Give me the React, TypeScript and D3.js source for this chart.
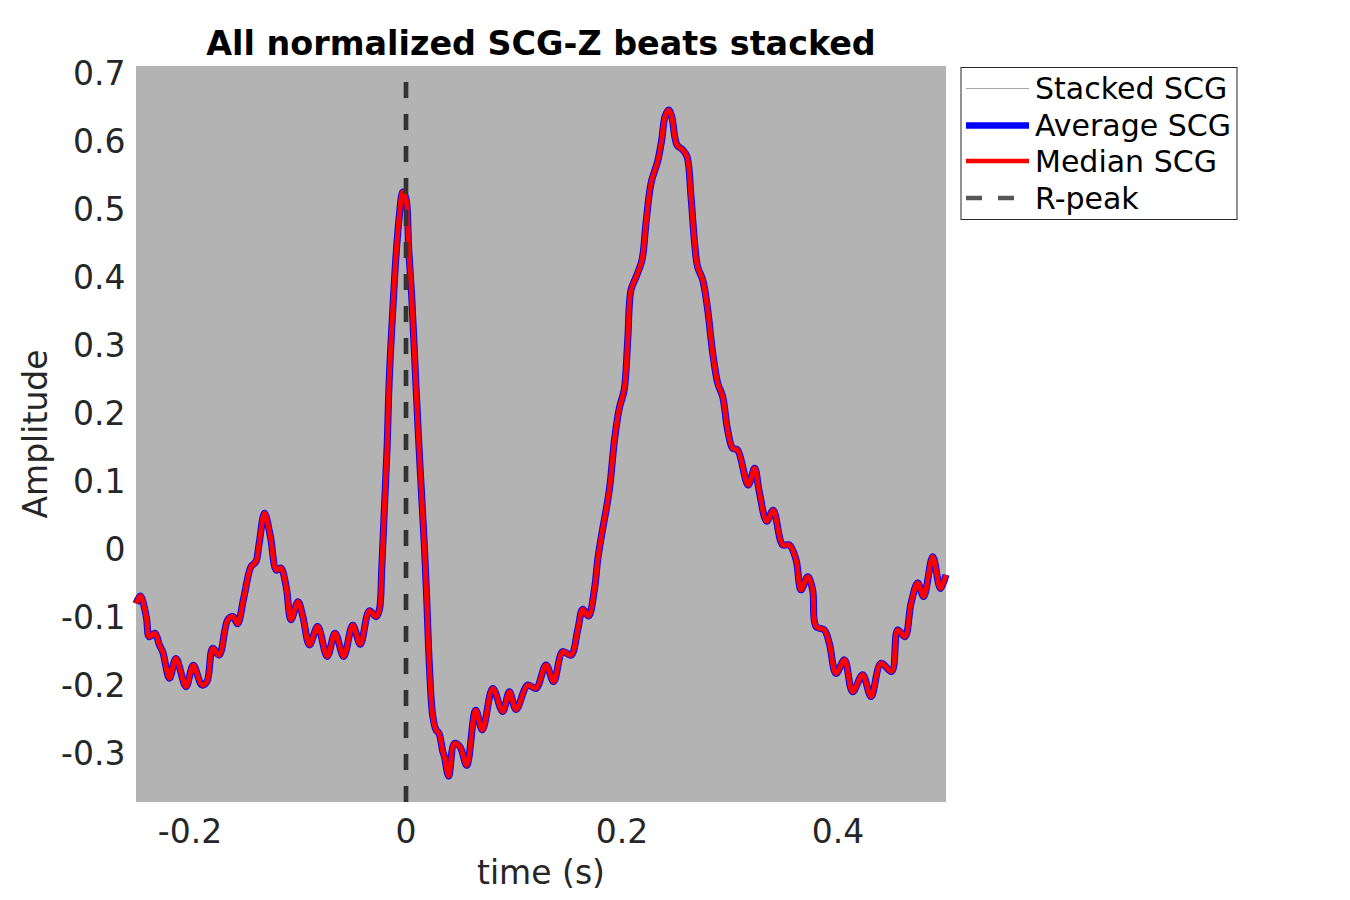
import { useEffect, useRef } from "react";
import * as d3 from "d3";

// time (s) of each traced sample
const timeSec: number[] = [
  -0.25, -0.246, -0.2405, -0.2377, -0.2324, -0.2284, -0.2253, -0.219, -0.213,
  -0.2037, -0.197, -0.189, -0.1843, -0.179, -0.173, -0.165, -0.16, -0.156, -0.15,
  -0.1435, -0.139, -0.136, -0.131, -0.1255, -0.12, -0.116, -0.111, -0.1065, -0.1,
  -0.0955, -0.0894, -0.0818, -0.073, -0.0657, -0.0577, -0.0494, -0.0423, -0.034,
  -0.0278, -0.0247, -0.0225, -0.02, -0.0175, -0.0155, -0.0123, -0.0093, -0.0062,
  -0.003, 0.0, 0.0025, 0.0053, 0.0093, 0.013, 0.017, 0.0194, 0.0216, 0.0247,
  0.0278, 0.0305, 0.034, 0.0355, 0.0395, 0.0448, 0.05, 0.0562, 0.0645, 0.0707,
  0.0803, 0.0895, 0.0957, 0.1019, 0.1127, 0.1204, 0.1296, 0.1367, 0.145, 0.1528,
  0.159, 0.1636, 0.169, 0.1744, 0.1775, 0.1806, 0.1883, 0.193, 0.1975, 0.202,
  0.2053, 0.2083, 0.213, 0.2185, 0.2222, 0.2269, 0.233, 0.2367, 0.2398, 0.2432,
  0.246, 0.2509, 0.2562, 0.2602, 0.2639, 0.267, 0.27, 0.2747, 0.279, 0.284,
  0.2886, 0.2932, 0.2978, 0.3025, 0.307, 0.3168, 0.3228, 0.327, 0.334, 0.34,
  0.3488, 0.355, 0.3612, 0.3657, 0.372, 0.3765, 0.3796, 0.3873, 0.392, 0.3981,
  0.406, 0.4135, 0.4228, 0.4306, 0.4398, 0.4497, 0.4553, 0.462, 0.4676, 0.4738,
  0.4793, 0.4877, 0.4948, 0.5,
];

// normalized SCG-Z amplitude (average and median overlap)
const avgAmp: number[] = [
  -0.08, -0.069, -0.0995, -0.129, -0.124, -0.141, -0.151, -0.19, -0.161,
  -0.2025, -0.171, -0.2, -0.195, -0.146, -0.156, -0.104, -0.0995, -0.11, -0.07,
  -0.026, -0.0187, 0.008, 0.0525, 0.018, -0.031, -0.028, -0.055, -0.104, -0.0775,
  -0.0995, -0.141, -0.114, -0.158, -0.124, -0.158, -0.112, -0.14, -0.091,
  -0.0995, -0.0897, -0.03, 0.06, 0.15, 0.25, 0.35, 0.43, 0.49,
  0.525, 0.515, 0.441, 0.371, 0.2375, 0.121, 0.005, -0.082, -0.17, -0.245,
  -0.266, -0.271, -0.2975, -0.305, -0.334, -0.286, -0.291, -0.318, -0.237, -0.266,
  -0.205, -0.239, -0.21, -0.236, -0.2, -0.205, -0.1706, -0.195, -0.151, -0.156,
  -0.119, -0.0887, -0.0985, -0.06, -0.016, 0.0157, 0.087, 0.16, 0.207, 0.234,
  0.307, 0.381, 0.4, 0.425, 0.479, 0.538, 0.57, 0.601, 0.636, 0.6455,
  0.636, 0.594, 0.587, 0.577, 0.518, 0.454, 0.415, 0.396, 0.356, 0.288,
  0.244, 0.224, 0.175, 0.148, 0.1456, 0.094, 0.1186, 0.085, 0.041, 0.057,
  0.006, 0.006, -0.016, -0.06, -0.0407, -0.06, -0.114, -0.119, -0.139, -0.183,
  -0.163, -0.21, -0.185, -0.217, -0.168, -0.18, -0.119, -0.129, -0.08, -0.05,
  -0.07, -0.0113, -0.058, -0.038,
];
const medianAmp: number[] = avgAmp.slice();

const xTicks: number[] = [-0.2, 0, 0.2, 0.4];
const yTicks: number[] = [-0.3, -0.2, -0.1, 0, 0.1, 0.2, 0.3, 0.4, 0.5, 0.6, 0.7];
const legendLabels: string[] = ["Stacked SCG", "Average SCG", "Median SCG", "R-peak"];

export default function App() {
  const svgRef = useRef<SVGSVGElement>(null);

  useEffect(() => {
    if (!svgRef.current) return;
    const svg = d3.select(svgRef.current);
    svg.selectAll("*").remove();

    const font = "DejaVu Sans";
    const textColor = "#262626";
    const axisFont = 33;
    const plot = { left: 136, right: 946, top: 66, bottom: 802 };

    const x = d3.scaleLinear().domain([-0.25, 0.5]).range([plot.left, plot.right]);
    const y = d3.scaleLinear().domain([-0.3, 0.7]).range([753, 73]);

    svg
      .append("rect")
      .attr("x", plot.left)
      .attr("y", plot.top)
      .attr("width", plot.right - plot.left)
      .attr("height", plot.bottom - plot.top)
      .attr("fill", "#b3b3b3");

    const pts = timeSec.map((t, i) => [t, avgAmp[i], medianAmp[i]] as [number, number, number]);

    const avgLine = d3
      .line<[number, number, number]>()
      .x((d) => x(d[0]))
      .y((d) => y(d[1]))
      .curve(d3.curveCatmullRom.alpha(0.5));
    const medLine = d3
      .line<[number, number, number]>()
      .x((d) => x(d[0]))
      .y((d) => y(d[2]))
      .curve(d3.curveCatmullRom.alpha(0.5));

    svg
      .append("path")
      .datum(pts)
      .attr("d", avgLine)
      .attr("fill", "none")
      .attr("stroke", "#0000ff")
      .attr("stroke-width", 7)
      .attr("stroke-linejoin", "round");

    svg
      .append("path")
      .datum(pts)
      .attr("d", medLine)
      .attr("fill", "none")
      .attr("stroke", "#ff0000")
      .attr("stroke-width", 5)
      .attr("stroke-linejoin", "round");

    // R-peak marker, dashed from bottom to top
    svg
      .append("path")
      .attr("d", `M${x(0)},${plot.bottom}L${x(0)},${plot.top}`)
      .attr("stroke", "#333333")
      .attr("stroke-width", 4.7)
      .attr("stroke-dasharray", "16,16");

    const fmt = (d: number) => (Math.abs(d) < 1e-9 ? "0" : String(+d.toFixed(1)));

    // tick labels
    svg
      .selectAll(".ytick")
      .data(yTicks)
      .join("text")
      .attr("class", "ytick")
      .attr("x", 125.5)
      .attr("y", (d) => y(d))
      .attr("dy", "0.36em")
      .attr("text-anchor", "end")
      .attr("font-family", font)
      .attr("font-size", axisFont)
      .attr("fill", textColor)
      .text(fmt);

    svg
      .selectAll(".xtick")
      .data(xTicks)
      .join("text")
      .attr("class", "xtick")
      .attr("x", (d) => x(d))
      .attr("y", 843)
      .attr("text-anchor", "middle")
      .attr("font-family", font)
      .attr("font-size", axisFont)
      .attr("fill", textColor)
      .text(fmt);

    svg
      .append("text")
      .attr("x", (plot.left + plot.right) / 2)
      .attr("y", 884)
      .attr("text-anchor", "middle")
      .attr("font-family", font)
      .attr("font-size", axisFont)
      .attr("fill", textColor)
      .text("time (s)");

    svg
      .append("text")
      .attr("transform", `translate(47,${(plot.top + plot.bottom) / 2}) rotate(-90)`)
      .attr("text-anchor", "middle")
      .attr("font-family", font)
      .attr("font-size", axisFont)
      .attr("fill", textColor)
      .text("Amplitude");

    svg
      .append("text")
      .attr("x", (plot.left + plot.right) / 2)
      .attr("y", 55)
      .attr("text-anchor", "middle")
      .attr("font-family", font)
      .attr("font-size", 33.4)
      .attr("font-weight", "bold")
      .attr("fill", "#000000")
      .text("All normalized SCG-Z beats stacked");

    // legend
    const lg = svg.append("g");
    lg.append("rect")
      .attr("x", 961)
      .attr("y", 67.5)
      .attr("width", 276)
      .attr("height", 152)
      .attr("fill", "#ffffff")
      .attr("stroke", textColor)
      .attr("stroke-width", 1);

    const rowY = [88.5, 125.5, 161, 198];
    const styles = [
      { color: "#a8a8a8", width: 1, dash: "" },
      { color: "#0000ff", width: 6.5, dash: "" },
      { color: "#ff0000", width: 4.5, dash: "" },
      { color: "#555555", width: 4.7, dash: "16,16" },
    ];
    legendLabels.forEach((label, i) => {
      lg.append("line")
        .attr("x1", 966)
        .attr("x2", 1029)
        .attr("y1", rowY[i])
        .attr("y2", rowY[i])
        .attr("stroke", styles[i].color)
        .attr("stroke-width", styles[i].width)
        .attr("stroke-dasharray", styles[i].dash || null);
      lg.append("text")
        .attr("x", 1035)
        .attr("y", rowY[i])
        .attr("dy", "0.36em")
        .attr("font-family", font)
        .attr("font-size", 30)
        .attr("fill", "#000000")
        .text(label);
    });
  }, []);

  return (
    <svg
      ref={svgRef}
      width={1350}
      height={900}
      style={{ position: "absolute", left: 0, top: 0, background: "#ffffff" }}
    />
  );
}
